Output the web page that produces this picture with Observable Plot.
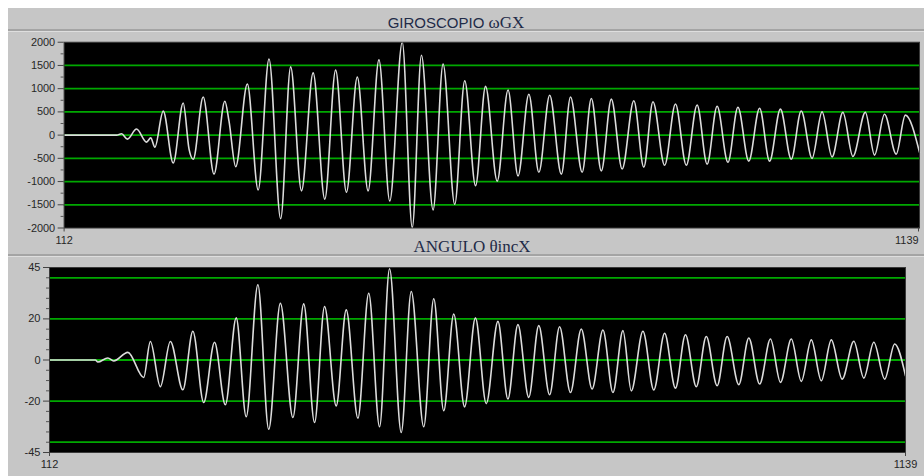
<!DOCTYPE html>
<html>
<head>
<meta charset="utf-8">
<script src="https://cdn.jsdelivr.net/npm/d3@7"></script>
<script src="https://cdn.jsdelivr.net/npm/@observablehq/plot@0.6"></script>
<style>
  html, body { margin: 0; padding: 0; background: #ffffff; }
  #wrap { position: relative; width: 924px; height: 476px; overflow: hidden; background: #c6c6c6; }
  .strip { position: absolute; background: #ffffff; }
  .sep { position: absolute; left: 8px; right: 0; height: 2px; background: #a4a4a4; border-bottom: 1px solid #dedede; }
  .title { position: absolute; white-space: nowrap; color: #1f2b48; transform: translateX(-50%); }
  .panel { position: absolute; left: 0; }
</style>
</head>
<body>
<div id="wrap">
  <div class="strip" style="left:0;top:0;width:924px;height:8px;"></div>
  <div class="strip" style="left:0;top:0;width:8px;height:476px;"></div>
  <div class="sep" style="top:29px;"></div>
  <div class="sep" style="top:254px;"></div>
  <div class="title" id="t1" style="left:456px;top:13px;"></div>
  <div class="title" id="t2" style="left:472px;top:237px;"></div>
  <div class="panel" id="p1" style="top:0px;"></div>
  <div class="panel" id="p2" style="top:255px;"></div>
</div>
<script>
// ---- titles ----
const title1Sans = "GIROSCOPIO";
const title1Serif = "ωGX";
const title2 = "ANGULO θincX";

// ---- shared x axis ----
const xDomain = [112, 1139];
const xTickStart = [112];
const xTickEnd = [1139];

// ---- panel 1: gyroscope ωGX (sample index, value) ----
const gyroT = [112, 175, 181, 188, 199, 211, 216, 221, 231, 243, 255, 262, 267, 279, 292, 305, 310, 318,
  332, 345, 358, 372, 384, 397, 411, 425, 438, 451, 464, 477, 490, 503, 518, 530, 541, 555, 567, 581,
  593, 606, 618, 632, 645, 657, 670, 682, 695, 709, 720, 734, 745, 757, 769, 782, 796, 808, 819, 833,
  846, 859, 872, 884, 896, 909, 921, 934, 947, 959, 972, 985, 997, 1010, 1022, 1034, 1047, 1059, 1074,
  1085, 1097, 1111, 1122, 1139];
const gyroV = [0, 0, 30, -86, 130, -150, -60, -260, 517, -600, 690, -300, -520, 820, -840, 730, 300, -680,
  1100, -1180, 1640, -1800, 1470, -1200, 1340, -1380, 1400, -1230, 1250, -1200, 1620, -1420, 2000, -1990,
  1720, -1610, 1530, -1490, 1170, -1090, 1050, -990, 970, -880, 880, -800, 860, -840, 820, -800, 790,
  -770, 775, -730, 740, -690, 720, -650, 670, -650, 650, -625, 620, -585, 600, -560, 580, -560, 560,
  -520, 520, -500, 500, -470, 490, -460, 490, -430, 450, -410, 430, -370];
const gyroTicks = [-2000, -1500, -1000, -500, 0, 500, 1000, 1500, 2000];
const gyroMinor = [-1750, -1250, -750, -250, 250, 750, 1250, 1750];
const gyroGrid = [-1500, -1000, -500, 0, 500, 1000, 1500];

// ---- panel 2: angle θincX ----
const angT = [112, 167, 170, 182, 189, 206, 225, 233, 245, 257, 272, 284, 297, 310, 323, 336, 348, 362,
  375, 389, 404, 417, 430, 442, 456, 468, 482, 495, 508, 520, 534, 546, 561, 573, 585, 597, 610, 623,
  636, 650, 662, 674, 687, 699, 712, 724, 737, 750, 763, 776, 788, 800, 810, 824, 837, 850, 863, 875,
  888, 900, 913, 925, 939, 951, 964, 977, 989, 1002, 1014, 1026, 1038, 1050, 1063, 1077, 1089, 1101,
  1114, 1126, 1139];
const angV = [0, 0, -1, 1, -0.5, 3.7, -8.5, 9, -13, 9, -14.5, 14, -20.7, 8.6, -21.8, 20.5, -27.6, 36.6,
  -33.7, 27.6, -28, 27.3, -30.4, 26, -22.3, 24.4, -28.3, 32.5, -32.5, 44.4, -35.3, 33.3, -32.5, 29.8,
  -24.7, 22.4, -22.8, 20.5, -21.2, 18.8, -19, 17.2, -18.2, 16.7, -16.9, 16.2, -15.8, 15.1, -14.1, 14.6,
  -15.8, 14.3, -15, 14, -14.6, 13, -13.7, 12.3, -13, 11.4, -12.5, 11.4, -12, 10.7, -11.7, 10.2, -10.9,
  10.2, -10.4, 9.8, -10.1, 9.8, -9.3, 9.1, -8.8, 8.6, -9.3, 7.8, -7.7];
const angTicks = [-45, -20, 0, 20, 45];
const angMinor = [-40, -35, -30, -25, -15, -10, -5, 5, 10, 15, 25, 30, 35, 40];
const angGrid = [-40, -20, 0, 20, 40];

// ---- build ----
const t1 = document.getElementById("t1");
t1.innerHTML = `<span style="font-family:'Liberation Sans',Arial,sans-serif;font-size:15px;">${title1Sans}</span><span style="font-family:'Liberation Serif','Times New Roman',serif;font-size:17px;"> ${title1Serif}</span>`;
const t2 = document.getElementById("t2");
t2.innerHTML = `<span style="font-family:'Liberation Serif','Times New Roman',serif;font-size:17px;">${title2}</span>`;

const gyroData = gyroT.map((t, i) => ({t, v: gyroV[i]}));
const angData = angT.map((t, i) => ({t, v: angV[i]}));

const fmt = d => String(d);
const gridColor = "#00a800";
const traceColor = "#dcdcdc";

function panel({data, width, height, ml, mr, mt, mb, yDomain, ticks, minor, grid, endShift}) {
  return Plot.plot({
    width, height,
    marginLeft: ml, marginRight: mr, marginTop: mt, marginBottom: mb,
    x: {domain: xDomain, label: null},
    y: {domain: yDomain, label: null},
    style: {background: "transparent", color: "#262626", fontFamily: "'Liberation Sans', Arial, sans-serif", fontSize: "11px", overflow: "visible"},
    marks: [
      Plot.frame({fill: "#000000"}),
      Plot.ruleY(grid, {stroke: gridColor, strokeWidth: 1.8}),
      Plot.line(data, {x: "t", y: "v", stroke: traceColor, strokeWidth: 1.6, curve: "monotone-x"}),
      Plot.frame({stroke: "#3a3a3a", strokeWidth: 1}),
      Plot.axisY(ticks, {anchor: "left", tickSize: 6, tickPadding: 3, tickFormat: fmt, stroke: "#444"}),
      Plot.axisY(minor, {anchor: "left", tickSize: 3, tickFormat: () => "", stroke: "#555"}),
      Plot.axisX(xTickStart, {anchor: "bottom", tickSize: 4, tickPadding: 4, tickFormat: fmt, stroke: "#444"}),
      Plot.axisX(xTickEnd, {anchor: "bottom", tickSize: 4, tickPadding: 4, tickFormat: fmt, stroke: "#444",
        textAnchor: endShift ? "end" : "middle", dx: endShift || 0})
    ]
  });
}

document.getElementById("p1").appendChild(panel({
  data: gyroData, width: 930, height: 255, ml: 64, mr: 5, mt: 42, mb: 26,
  yDomain: [-2000, 2000], ticks: gyroTicks, minor: gyroMinor, grid: gyroGrid, endShift: -1
}));
document.getElementById("p2").appendChild(panel({
  data: angData, width: 924, height: 221, ml: 49, mr: 19, mt: 12, mb: 24,
  yDomain: [-45, 45], ticks: angTicks, minor: angMinor, grid: angGrid, endShift: 0
}));
</script>
</body>
</html>
